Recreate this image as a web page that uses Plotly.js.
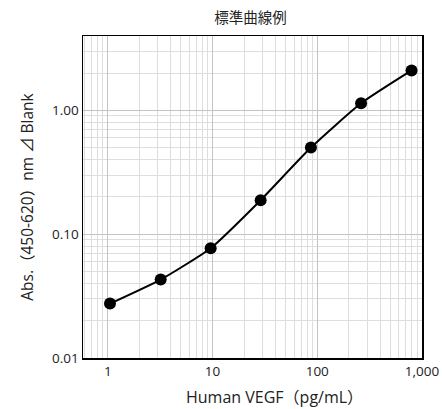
<!DOCTYPE html>
<html>
<head>
<meta charset="utf-8">
<script src="https://cdn.plot.ly/plotly-3.0.1.min.js"></script>
<style>html,body{margin:0;padding:0;background:#fff;}#chart{width:442px;height:409px;}</style>
</head>
<body>
<div id="chart"></div>
<script>
const concentration = [1.05, 3.2, 9.6, 28.8, 87, 262, 795];
const absorbance = [0.0275, 0.043, 0.077, 0.188, 0.50, 1.14, 2.10];
const xTickVals = [1, 10, 100, 1000];
const xTickText = ["1", "10", "100", "1,000"];
const yTickVals = [0.01, 0.1, 1];
const yTickText = ["0.01", "0.10", "1.00"];
const xTitle = 'Human VEGF（pg/mL）';
const yTitle = 'Abs.（450-620）nm ⊿ Blank';
const chartTitle = '標準曲線例';

const font = "'Open Sans', 'Noto Sans CJK JP', sans-serif";
const cjkFont = "'Noto Sans CJK JP', 'Open Sans', sans-serif";

const trace = {
  x: concentration,
  y: absorbance,
  mode: 'lines+markers',
  type: 'scatter',
  line: {color: '#000', width: 2, shape: 'spline', smoothing: 0.5},
  marker: {color: '#000', size: 12},
  cliponaxis: false,
  showlegend: false
};

const layout = {
  width: 442, height: 409,
  margin: {l: 83, r: 20, t: 36, b: 51},
  paper_bgcolor: '#fff', plot_bgcolor: '#fff',
  font: {family: font, size: 13.5, color: '#222'},
  title: {text: chartTitle, x: 0.567, xanchor: 'center', y: 0.955, yanchor: 'middle',
          font: {family: cjkFont, size: 14.5, color: '#222'}},
  xaxis: {
    type: 'log', range: [Math.log10(0.58), 3.0],
    tickmode: 'array', tickvals: xTickVals, ticktext: xTickText,
    ticks: '', showgrid: true, gridcolor: '#c4c4c4', gridwidth: 1,
    minor: {dtick: 'D1', showgrid: true, gridcolor: '#dedede', gridwidth: 1, ticks: ''},
    showline: true, linecolor: '#000', linewidth: 1.5, mirror: true,
    zeroline: false,
    tickfont: {family: font, size: 13.5, color: '#222'}
  },
  yaxis: {
    type: 'log', range: [-2, 0.6],
    tickmode: 'array', tickvals: yTickVals, ticktext: yTickText,
    ticks: '', showgrid: true, gridcolor: '#c4c4c4', gridwidth: 1,
    minor: {dtick: 'D1', showgrid: true, gridcolor: '#dedede', gridwidth: 1, ticks: ''},
    showline: true, linecolor: '#000', linewidth: 1.5, mirror: true,
    zeroline: false,
    tickfont: {family: font, size: 13.5, color: '#222'},
    title: {text: yTitle, font: {family: font, size: 15.5, color: '#222'}, standoff: 14}
  },
  annotations: [{
    text: xTitle, xref: 'paper', yref: 'paper', x: 0.565, y: -0.121,
    xanchor: 'center', yanchor: 'middle', showarrow: false,
    font: {family: font, size: 16, color: '#222'}
  }]
};

Plotly.newPlot('chart', [trace], layout, {staticPlot: true, displayModeBar: false});
</script>
</body>
</html>
